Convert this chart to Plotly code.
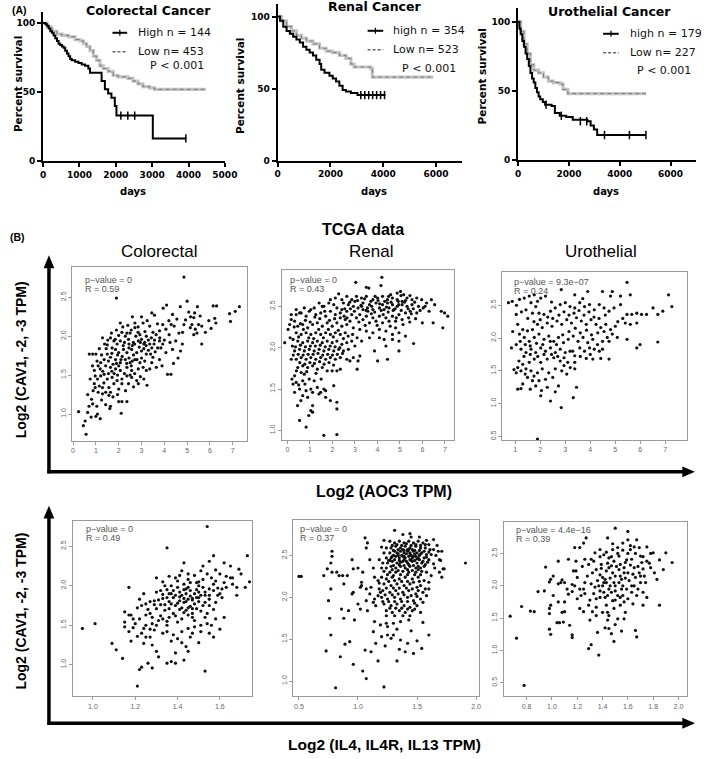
import plotly.graph_objects as go

# ---------------- DATA ----------------
# Kaplan-Meier curves (days, percent survival)
crc_high_t = [0,64,109,155,200,245,290,336,382,427,473,518,564,609,655,700,745,790,882,973,1064,1155,1245,1290,1610,1700,1790,1880,1973,2018,3018,3927]
crc_high_s = [100,99,98,96,94,93,91,89,87,85,84,83,82,80,78,76,74,73,72,71,70,69,67,64,58,52,49,46,40,33,16.5,16.5]
crc_low_t = [0,109,245,382,518,700,882,1018,1110,1200,1290,1382,1473,1564,1655,1790,1927,2064,2336,2473,2609,2745,2927,3064,4473]
crc_low_s = [100,97,94,92,91,90,88,87,85,83,80,76,73,69,67,65,62,61,60,58,56,54,53,52,52]
ren_high_t = [0,88,212,338,462,588,712,838,962,1088,1212,1338,1462,1588,1650,1775,1962,2088,2212,2338,2462,2588,2775,3025,4087]
ren_high_s = [100,97,93,90,88,86,84,82,79,77,75,73,70,67,63,61,59,57,55,52,49,48,47,45.5,45.5]
ren_low_t = [0,150,338,525,712,900,1088,1338,1588,1838,2088,2338,2588,2775,2900,3525,3587,5900]
ren_low_s = [100,97,93,90,87,85,83,81,78,76,75,73,71,67,65,64,58,58]
uro_high_t = [0,51,102,166,230,294,358,422,486,550,614,678,742,806,870,973,1062,1318,1446,1638,1894,2150,2726,2854,2982,3110,5030]
uro_high_s = [100,95,91,86,82,77,73,68,63,59,56,52,49,46,44,42,40,39,34,32,31,29,28,25,22,18,18]
uro_low_t = [0,102,230,358,486,614,806,998,1190,1382,1638,1766,1958,5030]
uro_low_s = [100,93,84,77,69,65,63,60,57,56,55,51,48,48]
# censor marks on the "high" curves
crc_cens = [(2140,33),(2330,33),(2520,33),(3927,16.5)]
ren_cens = [(3150,45.5),(3300,45.5),(3450,45.5),(3600,45.5),(3750,45.5),(3900,45.5),(4050,45.5)]
uro_cens = [(1100,40),(1700,32),(2450,28),(2700,28),(3400,18),(4380,18),(5030,18)]

km_titles = ["Colorectal Cancer", "Renal Cancer", "Urothelial Cancer"]
km_high_labels = ["High n = 144", "high n = 354", "high n = 179"]
km_low_labels = ["Low n= 453", "Low n= 523", "Low n= 227"]
km_p = ["P &lt; 0.001", "P &lt; 0.001", "P &lt; 0.001"]

# TCGA scatter data: (log2 x, log2 CAV1 signature)
crc_aoc3 = [(4.86,2.76),(1.9,2.49),(0.24,1.03),(0.57,0.74),(0.53,0.91),(0.79,0.96),(1.0,0.97),(1.19,0.94),(0.64,1.02),(0.64,1.25),(0.81,1.19),(0.86,1.13),(1.04,1.1),(1.07,1.0),
 (6.14,2.39),(6.29,2.39),(7.29,2.38),(7.11,2.32),(6.86,2.29),(6.9,2.19),(6.21,2.23),(6.26,2.17),
 (5.07,2.31),(5.33,2.30),(5.57,2.26),(5.29,2.24),(5.5,2.15),(5.64,2.13),(5.21,2.15),(5.36,2.09),(5.29,2.02),(5.64,1.9),(4.93,2.21),(4.86,2.15),(5.14,2.11),(5.43,2.04),
 (3.57,2.27),(4.36,2.28),(4.07,2.09),(4.43,2.13),(3.93,2.15),(3.79,2.07),(3.64,2.02),(4.21,2.02),(4.64,2.04),(4.79,1.9),(4.5,1.94),(4.36,1.83),(4.07,1.79),(4.71,1.81),(4.14,1.51),(4.29,1.51),
 (3.07,2.17),(3.36,2.13),(2.71,2.11),(2.5,2.04),(2.93,2.02),(3.21,2.0),(3.43,1.98),(3.57,1.95),(3.79,1.94),(3.93,1.9),(3.71,1.85),(3.36,1.9),(3.14,1.92),(2.86,1.94),(2.64,1.92),(2.43,1.96),(2.29,2.0),(2.14,2.05),(2.07,1.94),(1.93,1.9),(1.79,1.94),(1.64,1.98),(1.29,1.98),(1.71,1.85),(1.86,1.83),(2.0,1.79),(2.21,1.83),(2.36,1.79),(2.57,1.83),(2.79,1.79),(3.0,1.81),(3.21,1.77),(3.5,1.73),(3.79,1.70),(3.14,1.68),(2.93,1.66),(2.71,1.70),(2.5,1.66),(2.29,1.70),(2.07,1.66),(1.86,1.70),(1.64,1.73),(1.5,1.77),(1.36,1.70),(1.21,1.66),(1.43,1.62),(1.64,1.60),(1.86,1.58),(2.07,1.56),(2.36,1.60),(2.57,1.56),(2.86,1.58),(3.07,1.60),(3.36,1.58),(3.21,1.56),
 (0.71,1.77),(0.86,1.77),(1.0,1.77),(0.93,1.56),(0.97,1.49),(1.07,1.45),(0.93,1.39),(0.97,1.34),(1.19,1.58),(1.21,1.49),(1.36,1.51),(1.5,1.45),(1.71,1.47),(1.93,1.43),(2.14,1.45),(2.36,1.49),(2.57,1.47),(2.79,1.43),(2.43,1.39),(2.14,1.39),(1.79,1.39),(1.57,1.34),(1.29,1.34),(1.43,1.28),(1.64,1.28),(1.57,1.24),(1.29,1.26),(3.24,1.37),(2.86,1.39),
 (2.0,1.16),(2.14,1.16),(2.36,1.16),(1.43,1.12),(1.64,1.10),(1.61,1.07),(2.11,1.01),(2.07,2.17),(2.36,2.04),(2.71,2.17),
 (2.6,1.88),(2.9,1.86),(3.1,1.84),(3.3,1.82),(2.45,1.9),(2.2,1.88),(1.95,1.76),(2.15,1.74),(2.45,1.72),(2.65,1.76),(3.4,1.77),(3.6,1.8),(3.0,1.96),(2.75,2.0),(3.15,2.06),(3.5,2.05),(3.85,1.85),(4.0,1.95),(1.55,1.68),(1.75,1.64),(1.1,1.62),(1.3,1.55),(1.8,1.52),(2.55,1.62),(2.0,1.62),
 (1.15,1.84),(1.38,1.9),(1.52,1.95),(1.68,2.04),(1.9,2.08),(2.18,2.12),(2.4,2.14),(2.6,2.25),(2.85,2.12),(3.0,2.25),(3.25,2.2),(3.45,2.3),(3.7,2.16),(3.95,2.36),(4.2,2.2),(4.55,2.22),(4.7,2.38),(5.0,2.45),(5.45,2.38),(5.8,2.05),(5.95,2.2),(6.05,2.1),(3.1,1.9),(3.3,1.95),(3.55,1.9),(3.8,1.98),(4.25,1.92),(4.6,1.72),(4.4,1.65),(3.9,1.62),(3.65,1.6),(3.45,1.66),(3.0,1.72),(2.8,1.7),(2.6,1.68),(2.35,1.65),(2.1,1.7),(1.9,1.65),(1.7,1.78),(1.45,1.84),(1.25,1.76),(1.05,1.68),(0.85,1.62),(0.75,1.45),(0.88,1.3),(1.15,1.36),(1.35,1.4),(1.55,1.52),(1.7,1.55),(1.95,1.5),(2.25,1.52),(2.5,1.5),(2.7,1.52),(2.95,1.48),(3.1,1.45),(2.65,1.35),(2.3,1.3),(2.0,1.32),(1.75,1.22),(1.95,1.25),(1.25,1.18),(1.1,1.28),(0.7,1.1),(0.45,0.85),(2.25,1.92),(2.45,1.85),(2.7,1.9),(2.95,1.92),(3.2,1.88),(3.45,1.85),(1.85,1.96),(2.0,2.01),(1.5,1.89),(2.55,2.08),(2.85,2.05),(4.1,2.4),(4.3,2.15),(4.8,2.05),(5.15,2.25)]

ren_aoc3 = [(4.2,2.85),(3.04,2.79),(3.51,2.73),(3.62,2.72),(4.16,2.75),(5.03,2.68),(5.17,2.64),(4.88,2.66),(4.59,2.64),(2.28,2.65),(2.13,2.6),(2.42,2.58),(2.64,2.62),(2.86,2.58),(3.07,2.62),(3.29,2.6),(3.51,2.62),(3.8,2.58),(4.01,2.6),(4.23,2.62),(4.45,2.58),(4.67,2.6),(4.88,2.58),(5.1,2.56),(5.32,2.6),(5.54,2.58),(5.75,2.6),(5.97,2.58),(6.19,2.54),(6.55,2.52),(6.84,2.44),(6.99,2.42),(7.13,2.38),(6.48,2.3),(6.91,2.24),(5.61,2.05),
 (3.36,2.54),(3.65,2.52),(3.94,2.54),(4.23,2.52),(4.45,2.54),(4.67,2.52),(4.88,2.5),(5.1,2.52),(5.32,2.5),(5.54,2.52),(5.83,2.5),(6.04,2.48),(4.52,2.48),(4.74,2.46),(4.3,2.46),(4.09,2.48),(3.8,2.46),(3.58,2.44),(3.36,2.46),(3.14,2.48),(2.93,2.5),(2.71,2.52),(2.49,2.54),(3.22,2.4),(3.51,2.38),(3.8,2.36),(4.09,2.38),(4.38,2.36),(4.67,2.38),(4.96,2.4),(5.25,2.42),(5.46,2.44),(5.75,2.42),(5.39,2.36),(5.1,2.34),(4.81,2.32),(4.52,2.32),(4.23,2.3),(3.94,2.32),(3.65,2.3),(3.36,2.34),(3.07,2.36),(2.86,2.4),(2.64,2.44),(2.42,2.46),(2.2,2.48),(2.06,2.52),(1.84,2.54),(1.62,2.5),(1.41,2.54),(1.19,2.48),(1.04,2.46),(0.75,2.48),(0.54,2.42),(0.39,2.4),(0.32,2.32),(0.17,2.34),(0.03,2.22),(0.1,2.28),(-0.12,2.06),
 (2.93,2.24),(3.22,2.22),(3.51,2.2),(3.8,2.18),(4.09,2.22),(4.38,2.2),(4.67,2.16),(4.96,2.18),(5.25,2.14),(4.81,2.24),(4.09,2.12),(3.65,2.12),(4.3,2.1),(4.67,2.1),(4.96,2.08),(4.38,2.02),(3.87,1.96),(4.01,1.84),(4.45,1.86),(4.96,1.96),(3.14,1.84),(2.78,1.84),
 (0.46,2.26),(0.68,2.28),(0.9,2.24),(1.12,2.28),(1.33,2.3),(1.55,2.26),(1.77,2.3),(1.99,2.26),(2.2,2.3),(2.42,2.26),(2.64,2.28),(2.78,2.32),(2.57,2.18),(2.35,2.16),(2.13,2.18),(1.91,2.16),(1.7,2.18),(1.48,2.16),(1.26,2.18),(1.04,2.16),(0.83,2.18),(0.61,2.16),(0.39,2.18),(0.25,2.1),(0.46,2.08),(0.68,2.06),(0.9,2.08),(1.12,2.06),(1.33,2.08),(1.55,2.06),(1.77,2.08),(1.99,2.06),(2.2,2.08),(2.42,2.04),(2.64,2.06),(2.86,2.08),(3.0,2.02),(2.71,1.98),(2.49,1.96),(2.28,1.98),(2.06,1.96),(1.84,1.98),(1.62,1.96),(1.41,1.98),(1.19,1.96),(0.97,1.98),(0.75,1.96),(0.54,1.98),(0.32,1.96),(0.17,1.86),(0.39,1.86),(0.61,1.88),(0.83,1.86),(1.04,1.88),(1.26,1.86),(1.48,1.88),(1.7,1.86),(1.91,1.88),(2.13,1.86),(2.35,1.88),(2.64,1.86),(2.93,1.88),(3.22,1.9),
 (0.46,1.76),(0.68,1.78),(0.9,1.76),(1.12,1.78),(1.33,1.74),(1.55,1.76),(1.77,1.72),(1.99,1.72),(2.2,1.72),(2.35,1.74),(3.1,1.74),(0.61,1.7),(0.75,1.68),(0.32,1.66),(0.25,1.56),(0.39,1.58),(0.68,1.6),(0.97,1.62),(1.19,1.6),(0.54,1.5),(0.83,1.48),(1.04,1.5),(1.33,1.52),(1.62,1.5),(2.06,1.54),(0.32,1.46),(0.68,1.42),(0.9,1.4),(1.12,1.46),(1.48,1.46),(1.7,1.48),(1.91,1.36),(2.2,1.34),(2.2,1.26),(1.12,1.3),(1.04,1.24),(1.12,1.22),(0.54,1.12),(0.83,1.04),(1.62,0.94),(2.2,0.95),
 (0.17,2.4),(0.39,2.46),(0.61,2.42),(0.83,2.38),(0.97,2.44),(1.26,2.4),(1.48,2.42),(1.7,2.38),(1.91,2.44),(2.13,2.4),(2.35,2.36),(2.57,2.34),(1.55,2.5),(1.91,2.58),
 (2.55,2.47),(2.77,2.55),(2.98,2.44),(3.12,2.57),(3.27,2.51),(3.43,2.59),(3.56,2.48),(3.71,2.56),(3.88,2.43),(4.03,2.57),(4.17,2.45),(4.33,2.56),(4.48,2.43),(4.61,2.55),(4.79,2.47),(4.93,2.56),(5.06,2.45),(5.2,2.55),(5.37,2.47),(5.51,2.41),(5.66,2.55),(5.9,2.45),(6.12,2.5),(6.3,2.44),(6.4,2.58),(3.18,2.31),(3.46,2.27),(3.73,2.41),(3.99,2.27),(4.26,2.4),(4.57,2.26),(4.84,2.36),(5.14,2.28),(5.44,2.31),(5.7,2.35),(6.0,2.3),(2.52,2.38),(2.35,2.42),(2.1,2.35),(1.87,2.33),(1.66,2.44),(1.44,2.35),(1.22,2.37),(1.01,2.31),(0.8,2.33),(0.58,2.29),(0.3,2.25),(0.22,2.02),(0.12,2.12),(0.5,2.13),(0.71,2.22),(0.95,2.12),(1.17,2.11),(1.39,2.22),(1.6,2.12),(1.82,2.22),(2.04,2.13),(2.26,2.21),(2.49,2.11),(2.7,2.14),(2.9,2.16),(3.1,2.12),(3.3,2.08),(0.36,2.01),(0.58,2.03),(0.8,2.01),(1.02,2.02),(1.24,2.02),(1.46,2.03),(1.68,2.01),(1.9,2.02),(2.12,2.01),(2.33,2.0),(0.26,1.91),(0.48,1.92),(0.7,1.91),(0.92,1.92),(1.14,1.92),(1.36,1.93),(1.57,1.91),(1.79,1.92),(2.0,1.91),(2.22,1.92),(2.45,1.93),(0.55,1.82),(0.77,1.8),(1.0,1.82),(1.2,1.81),(1.43,1.83),(1.63,1.8),(1.85,1.82),(2.05,1.79),(0.4,1.72),(0.86,1.71),(1.27,1.69),(1.5,1.62),(0.2,1.62),(0.5,1.55),(0.78,1.56),(1.4,1.44),(0.6,1.36),(1.7,1.4),(0.45,1.3),(0.95,1.18),(3.75,2.5),(4.1,2.53),(4.4,2.49),(4.7,2.45),(4.95,2.52),(5.25,2.57),(5.6,2.47),(3.5,2.45),(3.3,2.5),(3.0,2.56),(2.8,2.47),(2.65,2.36),(3.9,2.62),(4.5,2.62),(5.05,2.63),(5.45,2.63)]

uro_aoc3 = [(5.47,2.85),(2.84,2.74),(3.38,2.66),(3.9,2.71),(4.49,2.71),(4.88,2.71),(4.81,2.64),(5.21,2.64),(5.6,2.66),(7.13,2.66),(7.26,2.48),(0.73,2.54),(0.88,2.56),(1.04,2.36),(1.17,2.59),(1.36,2.61),(1.56,2.64),(1.76,2.66),(1.89,2.56),(2.02,2.61),(2.21,2.64),(1.63,2.54),(1.82,2.48),(1.43,2.43),(1.69,2.38),(1.95,2.38),(2.15,2.36),(2.41,2.41),(2.6,2.46),(2.8,2.51),(3.0,2.54),(3.19,2.48),(3.38,2.46),(3.58,2.54),(3.77,2.48),(3.97,2.51),(4.16,2.43),(4.36,2.51),(4.55,2.46),(4.75,2.41),(4.95,2.46),(5.21,2.51),(5.47,2.36),(5.66,2.36),(5.86,2.38),(6.05,2.36),(6.25,2.36),(6.51,2.46),(6.7,2.36),(6.9,2.41),(5.4,2.23),(5.6,2.21),(5.86,2.23),(5.08,2.01),(5.47,1.98),(5.86,1.85),(6.7,1.94),(5.99,1.9),
 (1.1,2.21),(1.3,2.13),(1.49,2.11),(1.69,2.13),(1.89,2.21),(2.08,2.16),(2.28,2.23),(2.47,2.18),(2.67,2.26),(2.86,2.21),(3.06,2.28),(3.25,2.23),(3.45,2.31),(3.64,2.26),(3.84,2.21),(4.03,2.28),(4.23,2.21),(4.42,2.16),(4.62,2.21),(4.81,2.13),(5.0,2.18),(1.17,2.06),(1.36,2.01),(1.56,1.95),(1.76,2.01),(1.95,2.06),(2.15,1.98),(2.34,2.03),(2.54,1.95),(2.73,2.01),(2.93,1.93),(3.12,1.98),(3.32,2.03),(3.51,1.95),(3.71,2.01),(3.9,1.93),(4.1,1.98),(4.29,1.9),(4.49,1.95),(4.68,2.01),(4.88,2.06),(1.04,1.9),(1.23,1.83),(1.43,1.78),(1.63,1.83),(1.82,1.78),(2.02,1.85),(2.21,1.8),(2.41,1.85),(2.6,1.78),(2.8,1.83),(3.0,1.78),(3.19,1.8),(3.38,1.73),(3.58,1.85),(3.77,1.8),(3.97,1.85),(4.16,1.83),(4.36,1.8),(4.49,1.83),(4.75,1.68),(4.42,1.69),(4.1,1.68),(3.84,1.69),(3.38,1.63),(3.1,1.63),(2.8,1.65),(2.54,1.7),(2.28,1.68),(2.02,1.63),(1.76,1.68),(1.56,1.63),(1.3,1.6),(1.1,1.55),(1.23,1.5),(1.43,1.53),(1.04,1.47),(1.63,1.5),(1.89,1.47),(2.08,1.53),(2.34,1.47),(2.6,1.53),(2.86,1.5),(3.06,1.45),(3.38,1.53),(1.49,1.4),(1.69,1.35),(1.95,1.35),(2.21,1.37),(1.82,1.27),(2.28,1.25),(2.73,1.27),(3.45,1.25),(3.32,1.09),(2.02,1.12),(2.41,1.04),(1.1,1.22),(1.23,1.23),(2.84,0.94),(1.89,0.46),
 (1.25,2.4),(1.5,2.3),(1.75,2.25),(2.0,2.28),(2.3,2.32),(2.5,2.3),(2.75,2.35),(2.95,2.4),(3.15,2.35),(3.35,2.38),(3.55,2.42),(3.75,2.35),(3.95,2.4),(4.15,2.32),(4.35,2.3),(4.6,2.35),(1.2,1.95),(1.4,1.9),(1.6,1.88),(1.85,1.92),(2.1,1.9),(2.4,1.95),(2.65,1.9),(2.9,2.05),(3.15,2.1),(3.4,2.15),(3.6,2.08),(3.85,2.12),(4.05,2.05),(4.3,2.08),(4.55,2.1),(4.75,1.95),(5.1,2.25),(5.3,2.3),(1.35,1.72),(1.6,1.75),(1.9,1.72),(2.15,1.75),(2.45,1.75),(2.7,1.72),(2.95,1.7),(3.3,1.8),(3.6,1.72),(4.0,1.75),(1.15,1.65),(1.4,1.45),(1.75,1.42),(2.5,1.4),(2.95,1.58),(3.2,1.55),(1.3,1.3),(1.6,1.22),(2.05,1.2),(2.6,1.18),(0.95,1.52),(0.9,2.1),(0.85,1.85),(1.05,2.5),(2.45,2.55),(3.7,2.6)]

crc_il4 = [(1.54,2.75),(1.35,2.48),(0.95,1.46),(1.01,1.52),(1.09,1.27),(1.11,1.19),(1.14,1.08),(1.17,1.98),(1.22,0.94),(1.23,0.97),(1.21,0.73),(1.26,1.02),(1.28,0.96),(1.53,0.92),(1.15,1.48),(1.15,1.54),(1.15,1.67),(1.17,1.63),(1.18,1.63),(1.19,1.47),(1.2,1.52),(1.22,1.58),(1.22,1.83),(1.25,1.35),(1.24,1.46),(1.25,1.5),(1.27,1.35),(1.28,1.25),(1.29,1.44),(1.31,1.56),(1.3,1.71),(1.29,1.81),(1.3,1.92),(1.3,2.1),(1.32,1.94),(1.32,1.76),(1.34,1.69),(1.33,1.58),(1.35,1.5),(1.35,1.42),(1.3,1.17),(1.31,1.1),(1.35,1.02),(1.37,1.04),(1.39,1.02),(1.39,1.15),(1.43,1.06),(1.44,1.23),(1.45,1.17),(1.4,1.33),(1.38,1.38),(1.42,1.42),(1.45,1.46),(1.47,1.4),(1.48,1.48),(1.51,1.5),(1.54,1.52),(1.56,1.5),(1.57,1.35),(1.51,1.42),(1.48,1.56),(1.45,1.63),(1.42,1.58),(1.38,1.65),(1.36,1.71),(1.37,1.77),(1.39,1.75),(1.41,1.81),(1.43,1.79),(1.45,1.83),(1.48,1.77),(1.49,1.71),(1.52,1.75),(1.54,1.65),(1.53,1.79),(1.55,1.83),(1.58,1.79),(1.59,1.88),(1.61,1.85),(1.57,1.94),(1.55,1.96),(1.52,1.98),(1.5,1.92),(1.48,1.9),(1.46,1.94),(1.44,1.9),(1.42,1.88),(1.39,1.88),(1.38,1.94),(1.36,1.9),(1.35,1.85),(1.34,2.0),(1.37,2.0),(1.4,2.06),(1.43,2.02),(1.41,2.13),(1.45,2.08),(1.48,2.13),(1.49,2.04),(1.52,2.08),(1.54,2.15),(1.56,2.1),(1.58,2.06),(1.6,2.15),(1.62,2.04),(1.61,1.96),(1.63,1.98),(1.65,2.1),(1.62,2.29),(1.65,2.25),(1.66,2.1),(1.69,2.21),(1.68,1.98),(1.72,1.98),(1.68,1.88),(1.73,2.38),(1.57,2.38),(1.55,2.31),(1.52,2.25),(1.51,2.19),(1.42,2.19),(1.43,2.29),(1.39,2.1),(1.58,1.58),(1.47,1.71),(1.25,1.63),(1.23,1.75),(1.25,1.77),(1.27,1.65),(1.28,1.52),(1.23,1.4),(1.17,1.42),(1.24,1.27),(1.4,1.54),(1.44,1.69),(1.47,1.65),
 (1.41,1.86),(1.43,1.84),(1.46,1.87),(1.44,1.8),(1.47,1.84),(1.5,1.85),(1.4,1.78),(1.42,1.72),(1.46,1.74),(1.5,1.8),(1.53,1.88),(1.36,1.8),(1.33,1.84),(1.45,1.98),(1.5,2.0),
 (1.38,1.85),(1.41,1.92),(1.44,1.96),(1.47,1.82),(1.49,1.95),(1.51,1.88),(1.53,1.92),(1.55,1.88),(1.57,2.02),(1.59,1.97),(1.46,2.04),(1.43,1.95),(1.4,1.98),(1.37,1.9),(1.35,1.95),(1.33,1.89),(1.31,1.82),(1.29,1.76),(1.27,1.8),(1.26,1.7),(1.28,1.6),(1.32,1.62),(1.34,1.76),(1.36,1.6),(1.39,1.62),(1.41,1.7),(1.43,1.66),(1.45,1.72),(1.47,1.6),(1.49,1.85),(1.51,1.68),(1.53,1.6),(1.55,1.75),(1.57,1.7),(1.6,1.9),(1.63,2.12),(1.66,2.02),(1.58,2.2),(1.5,2.05),(1.45,2.15),(1.36,2.12),(1.33,2.05),(1.24,1.9),(1.21,1.72),(1.19,1.58),(1.21,1.36),(1.27,1.45),(1.33,1.4),(1.37,1.3),(1.42,1.28),(1.46,1.35),(1.5,1.28),(1.55,1.4),(1.6,1.45),(1.62,1.6),(1.7,2.15),(1.74,2.05),(1.35,1.55),(1.3,1.5),(1.18,1.3)]

ren_il4 = [(0.5,2.25),(0.52,2.25),(0.71,2.26),(0.74,2.34),(0.77,2.41),(0.78,2.55),(0.78,2.49),(0.78,2.3),(0.75,1.96),(0.77,2.1),(0.76,1.75),(0.77,1.55),(0.73,1.36),(0.85,1.29),(0.81,0.92),(0.84,2.26),(0.87,2.26),(0.91,2.26),(0.88,2.16),(0.82,2.3),(0.86,1.86),(0.88,1.75),(0.92,1.84),(0.93,1.47),(0.89,1.44),(0.96,1.2),(0.96,2.34),(0.95,2.04),(0.96,2.06),(0.97,1.73),(1.0,1.92),(1.02,1.86),(1.03,2.18),(1.02,2.12),(1.06,2.71),(1.08,2.65),(1.07,2.59),(1.04,2.3),(1.07,1.96),(1.08,1.84),(1.1,2.45),(1.13,2.35),(1.06,1.37),(1.04,1.12),(1.07,1.03),(1.11,1.35),(1.13,1.59),(1.14,1.71),(1.15,1.45),(1.17,1.24),(1.22,0.93),(1.33,1.24),(1.4,1.35),(1.47,1.33),(1.54,1.39),(1.6,1.55),(1.36,1.49),(1.28,1.51),(1.25,1.55),(1.2,1.53),(1.19,1.67),(1.24,1.69),(1.3,1.69),(1.36,1.71),(1.43,1.73),(1.14,2.24),(1.17,2.2),(1.18,2.1),(1.17,2.02),(1.14,1.98),(1.65,2.35),(1.64,2.57),(1.64,2.69),(1.69,2.3),(1.71,2.24),(1.72,2.34),(1.69,2.45),(1.71,2.55),(1.73,2.34),(1.91,2.41),(1.31,2.8),(1.38,2.75),(1.44,2.76),
 (1.27,2.67),(1.31,2.65),(1.35,2.67),(1.39,2.65),(1.43,2.67),(1.47,2.65),(1.51,2.67),(1.55,2.65),(1.6,2.63),(1.24,2.59),(1.28,2.59),(1.32,2.61),(1.36,2.59),(1.4,2.61),(1.44,2.59),(1.49,2.61),(1.53,2.59),(1.57,2.59),(1.61,2.57),(1.22,2.53),(1.27,2.53),(1.31,2.55),(1.33,2.53),(1.36,2.55),(1.39,2.53),(1.42,2.55),(1.44,2.53),(1.47,2.55),(1.5,2.53),(1.54,2.53),(1.58,2.51),(1.62,2.51),(1.24,2.47),(1.28,2.47),(1.32,2.49),(1.35,2.47),(1.38,2.49),(1.4,2.47),(1.43,2.49),(1.46,2.47),(1.49,2.49),(1.51,2.47),(1.56,2.47),(1.6,2.45),(1.21,2.41),(1.25,2.41),(1.29,2.43),(1.33,2.41),(1.38,2.43),(1.42,2.41),(1.46,2.43),(1.5,2.41),(1.54,2.41),(1.57,2.39),(1.2,2.35),(1.24,2.35),(1.28,2.37),(1.32,2.35),(1.36,2.37),(1.4,2.35),(1.44,2.37),(1.49,2.35),(1.53,2.35),(1.22,2.31),(1.27,2.3),(1.32,2.3),(1.38,2.31),(1.43,2.3),(1.49,2.3),(1.54,2.31),(1.58,2.3),
 (1.34,2.52),(1.37,2.5),(1.41,2.52),(1.45,2.5),(1.48,2.52),(1.52,2.5),(1.35,2.44),(1.39,2.45),(1.44,2.45),(1.48,2.44),(1.52,2.45),(1.38,2.57),(1.42,2.57),(1.46,2.57),(1.3,2.5),(1.26,2.44),
 (1.2,2.24),(1.24,2.22),(1.29,2.24),(1.35,2.22),(1.4,2.24),(1.46,2.22),(1.51,2.24),(1.22,2.16),(1.28,2.14),(1.33,2.16),(1.39,2.14),(1.44,2.16),(1.5,2.12),(1.21,2.08),(1.27,2.06),(1.32,2.08),(1.38,2.06),(1.43,2.08),(1.49,2.04),(1.2,2.0),(1.25,1.98),(1.31,2.0),(1.36,1.98),(1.42,2.0),(1.47,1.96),(1.53,1.98),(1.22,1.92),(1.28,1.9),(1.33,1.92),(1.39,1.9),(1.44,1.88),(1.5,1.9),(1.24,1.84),(1.29,1.82),(1.35,1.84),(1.4,1.82),(1.46,1.84),(1.53,1.82),(1.44,1.78),(1.38,1.78),(1.31,1.78),(1.24,1.78),(1.53,2.14),(1.57,2.1),(1.58,2.02),(1.6,2.18),(1.55,1.94),(1.03,2.14),(1.07,2.1),(1.1,2.04),(1.11,2.12),(1.13,1.94),(1.15,1.9),
 (1.29,2.62),(1.33,2.63),(1.37,2.62),(1.41,2.64),(1.45,2.62),(1.49,2.63),(1.53,2.62),(1.57,2.63),(1.3,2.56),(1.34,2.57),(1.39,2.56),(1.43,2.57),(1.48,2.56),(1.52,2.56),(1.56,2.55),(1.6,2.54),(1.29,2.49),(1.34,2.5),(1.39,2.49),(1.44,2.5),(1.47,2.49),(1.53,2.52),(1.58,2.48),(1.27,2.44),(1.31,2.45),(1.36,2.42),(1.41,2.43),(1.45,2.44),(1.5,2.46),(1.55,2.43),(1.59,2.42),(1.3,2.38),(1.35,2.39),(1.39,2.38),(1.43,2.39),(1.47,2.38),(1.51,2.37),(1.56,2.37),(1.29,2.33),(1.34,2.32),(1.42,2.33),(1.46,2.32),(1.51,2.33),(1.25,2.27),(1.3,2.26),(1.36,2.27),(1.42,2.27),(1.48,2.27),(1.53,2.27),(1.26,2.19),(1.31,2.2),(1.37,2.19),(1.42,2.19),(1.47,2.18),(1.52,2.19),(1.24,2.11),(1.3,2.11),(1.35,2.11),(1.41,2.11),(1.46,2.1),(1.51,2.08),(1.23,2.03),(1.29,2.03),(1.34,2.04),(1.39,2.03),(1.45,2.02),(1.5,2.01),(1.26,1.95),(1.31,1.95),(1.37,1.95),(1.42,1.95),(1.48,1.93),(1.27,1.87),(1.32,1.87),(1.37,1.87),(1.42,1.86),(1.48,1.86),(1.21,1.95),(1.19,2.06),(1.18,2.17),(1.56,2.2),(1.55,2.06),(1.6,2.1),(1.62,2.26),(1.64,2.4),(1.66,2.5),(1.25,1.65),(1.33,1.62),(1.3,1.55),(1.45,1.6),(1.55,1.7),(1.5,1.48),(1.42,1.45),(1.23,1.42),(1.35,1.38),(1.0,2.35),(0.95,2.45),(1.18,2.45),(1.2,2.6),(1.22,2.68),(1.45,2.72),(1.52,2.72),(1.58,2.68),(1.67,2.62),(1.68,2.55),(1.7,2.44)]

uro_il4 = [(0.67,1.53),(0.72,1.19),(0.78,0.46),(0.76,1.68),(0.83,1.61),(0.86,1.6),(0.89,1.91),(0.94,1.92),(0.95,2.29),(0.98,2.06),(0.99,2.1),(1.01,2.15),(1.05,2.03),(1.07,2.05),(1.08,2.09),(1.1,2.05),(0.98,1.65),(0.98,1.57),(0.99,1.7),(1.01,1.85),(0.98,1.33),(0.99,1.25),(1.04,1.43),(1.06,1.43),(1.09,1.44),(1.08,1.59),(1.1,1.75),(1.13,1.87),(1.13,2.41),(1.16,1.91),(1.17,2.23),(1.19,2.23),(1.16,1.24),(1.16,1.2),(1.14,1.39),(1.16,2.02),(1.18,2.0),(1.2,2.13),(1.22,1.65),(1.23,1.85),(1.25,1.95),(1.26,2.05),(1.26,2.41),(1.29,1.7),(1.3,1.47),(1.29,1.03),(1.31,1.09),(1.25,2.66),(1.27,2.74),(1.29,2.33),(1.31,2.41),(1.32,2.2),(1.34,1.98),(1.35,1.8),(1.35,1.54),(1.36,1.28),(1.37,0.93),(1.38,2.56),(1.39,2.33),(1.4,2.13),(1.4,2.0),(1.41,1.9),(1.43,1.7),(1.44,1.59),(1.44,1.47),(1.45,1.34),(1.47,1.26),(1.49,1.14),(1.44,2.74),(1.45,2.43),(1.47,2.31),(1.48,2.2),(1.49,2.05),(1.5,1.92),(1.5,2.89),(1.52,2.59),(1.53,2.46),(1.54,2.33),(1.54,2.15),(1.56,2.0),(1.56,1.85),(1.57,1.75),(1.58,1.59),(1.57,1.49),(1.56,2.66),(1.6,2.71),(1.6,2.84),(1.62,2.56),(1.63,2.41),(1.65,2.28),(1.66,2.13),(1.65,2.0),(1.63,1.9),(1.67,1.85),(1.67,2.71),(1.69,2.59),(1.7,2.46),(1.71,2.36),(1.72,2.26),(1.7,2.15),(1.74,2.05),(1.75,1.82),(1.72,1.7),(1.66,1.31),(1.67,1.21),(1.75,2.38),(1.78,2.28),(1.8,2.51),(1.83,2.1),(1.85,1.7),(1.9,2.51),(1.95,2.36),(1.43,2.23),(1.49,2.38),(1.57,2.2),(1.61,2.08),(1.52,1.85),(1.48,1.77),(1.43,2.05),(1.38,1.92),(1.31,2.03),(1.19,2.38),(1.18,2.59),(1.22,2.59),(1.05,2.38),(1.34,2.51),(1.58,2.36),(1.6,2.5),(1.7,2.05),(1.4,1.59),(1.45,1.54),(1.52,1.49),(1.49,1.65),(1.54,1.7),(1.35,1.67),(1.48,2.56),(1.41,2.48),
 (1.42,2.1),(1.46,2.0),(1.5,2.15),(1.53,2.25),(1.45,2.28),(1.38,2.17),(1.55,1.95),(1.6,2.2),(1.36,2.08),(1.42,1.82),(1.47,1.9),(1.58,2.12),
 (1.35,2.25),(1.39,2.27),(1.44,2.35),(1.46,2.12),(1.51,2.3),(1.53,2.05),(1.57,2.28),(1.59,2.4),(1.62,2.32),(1.64,2.18),(1.68,2.3),(1.69,2.2),(1.73,2.15),(1.77,2.35),(1.81,2.2),(1.37,2.0),(1.41,2.05),(1.45,1.95),(1.5,2.0),(1.55,2.1),(1.59,1.95),(1.63,2.0),(1.68,1.95),(1.72,1.9),(1.33,1.88),(1.38,1.82),(1.44,1.85),(1.5,1.78),(1.54,1.82),(1.6,1.8),(1.64,1.72),(1.3,1.78),(1.26,1.88),(1.22,1.95),(1.28,2.15),(1.24,2.3),(1.33,2.38),(1.38,2.45),(1.43,2.52),(1.47,2.45),(1.52,2.5),(1.56,2.55),(1.62,2.62),(1.66,2.5),(1.72,2.45),(1.78,2.5),(1.85,2.4),(1.88,2.25),(1.2,1.8),(1.25,1.6),(1.32,1.6),(1.42,1.35),(1.5,1.4),(1.55,1.3),(1.1,1.6),(1.12,1.95),(1.05,1.75),(1.48,2.65),(1.65,2.6),(1.75,2.6)]

col_titles = ["Colorectal", "Renal", "Urothelial"]
stat_text = [("p\u2212value = 0", "R = 0.59"), ("p\u2212value = 0", "R = 0.43"), ("p\u2212value = 9.3e\u221207", "R = 0.24"),
             ("p\u2212value = 0", "R = 0.49"), ("p\u2212value = 0", "R = 0.37"), ("p\u2212value = 4.4e\u221216", "R = 0.39")]

# ---------------- LAYOUT HELPERS ----------------
W, H = 709, 759
def X(px): return px / W
def Y(py): return 1 - py / H

fig = go.Figure()
layout = dict(width=W, height=H, margin=dict(l=0, r=0, t=0, b=0),
              paper_bgcolor="white", plot_bgcolor="white", showlegend=False)

GP = "DejaVu Sans"          # GraphPad-like wide text
SANS = "Liberation Sans"

def note(px, py, text, size, family=SANS, color="black", bold=False, xanchor="center", angle=0):
    return dict(x=X(px), y=Y(py), xref="paper", yref="paper", text=text, showarrow=False,
                xanchor=xanchor, yanchor="middle", textangle=angle,
                font=dict(family=family, size=size, color=color, weight="bold" if bold else "normal"))

km_axes = [
    ((41, 227), [0, 5000], [0, 1000, 2000, 3000, 4000, 5000], (12, 162.3), [0, 108]),
    ((281, 470), [0, 7000], [0, 2000, 4000, 6000], (3.6, 161.7), [0, 109]),
    ((527, 709), [0, 7000], [0, 2000, 4000, 6000], (8, 161), [0, 110]),
]
for i, (xd, xr, xt, yd, yr) in enumerate(km_axes, start=1):
    sfx = "" if i == 1 else str(i)
    layout["xaxis" + sfx] = dict(domain=[X(xd[0]), X(xd[1])], range=xr, anchor="y" + str(i),
        tickvals=xt, showline=True, linewidth=2, linecolor="black",
        ticks="outside", ticklen=4, tickwidth=2, tickcolor="black", showgrid=False, zeroline=False,
        tickfont=dict(family=GP, size=9, color="black", weight="bold"))
    layout["yaxis" + sfx] = dict(domain=[Y(yd[1]), Y(yd[0])], range=yr, anchor="x" + str(i),
        tickvals=[0, 50, 100], showline=True, linewidth=2, linecolor="black",
        ticks="outside", ticklen=4, tickwidth=2, tickcolor="black", showgrid=False, zeroline=False,
        tickfont=dict(family=GP, size=9, color="black", weight="bold"))

km_sets = [(crc_high_t, crc_high_s, crc_low_t, crc_low_s, crc_cens),
           (ren_high_t, ren_high_s, ren_low_t, ren_low_s, ren_cens),
           (uro_high_t, uro_high_s, uro_low_t, uro_low_s, uro_cens)]
for i, (ht, hs, lt, lsv, cens) in enumerate(km_sets, start=1):
    xa, ya = "x" + str(i), "y" + str(i)
    fig.add_trace(go.Scatter(x=lt, y=lsv, mode="lines", line=dict(shape="hv", color="#c4c4c4", width=3.2), xaxis=xa, yaxis=ya))
    fig.add_trace(go.Scatter(x=lt, y=lsv, mode="lines", line=dict(shape="hv", color="#7a7a7a", width=1, dash="4px,3px"), xaxis=xa, yaxis=ya))
    fig.add_trace(go.Scatter(x=ht, y=hs, mode="lines", line=dict(shape="hv", color="black", width=2), xaxis=xa, yaxis=ya))
    fig.add_trace(go.Scatter(x=[c[0] for c in cens], y=[c[1] for c in cens], mode="markers",
        marker=dict(symbol="line-ns", size=6, line=dict(width=1.5, color="black")), xaxis=xa, yaxis=ya))

sc_axes = [
    ((71, 250), [-0.03, 7.64], [0,1,2,3,4,5,6,7], (269, 444), [0.652, 2.887], [1.0,1.5,2.0,2.5]),
    ((285.7, 461.7), [-0.23, 7.42], [0,1,2,3,4,5,6,7], (272, 443), [0.883, 2.936], [1.0,1.5,2.0,2.5]),
    ((511, 700), [0.49, 7.875], [1,2,3,4,5,6,7], (274.3, 443), [0.444, 3.0], [0.5,1.0,1.5,2.0,2.5]),
    ((71.7, 255), [0.906, 1.753], [1.0,1.2,1.4,1.6], (524, 701), [0.6, 2.825], [1.0,1.5,2.0,2.5]),
    ((297, 487), [0.452, 2.025], [0.5,1.0,1.5,2.0], (523.3, 701), [0.817, 2.925], [1.0,1.5,2.0,2.5]),
    ((512.3, 700), [0.619, 2.069], [0.8,1.0,1.2,1.4,1.6,1.8,2.0], (525, 701), [0.291, 2.993], [0.5,1.0,1.5,2.0,2.5]),
]
sc_data = [crc_aoc3, ren_aoc3, uro_aoc3, crc_il4, ren_il4, uro_il4]
annos = []
for k, ((xd, xr, xt, yd, yr, yt), pts) in enumerate(zip(sc_axes, sc_data)):
    i = k + 4
    layout["xaxis" + str(i)] = dict(domain=[X(xd[0]), X(xd[1])], range=xr, anchor="y" + str(i),
        tickvals=xt, ticktext=[("%.1f" % v if k >= 3 else str(v)) for v in xt],
        showline=True, mirror=True, linewidth=1, linecolor="#9a9a9a", ticks="outside", ticklen=3,
        tickcolor="#9a9a9a", showgrid=False, zeroline=False, tickfont=dict(family=SANS, size=7, color="#666"))
    layout["yaxis" + str(i)] = dict(domain=[Y(yd[1]), Y(yd[0])], range=yr, anchor="x" + str(i),
        tickvals=yt, ticktext=["%.1f" % v for v in yt], tickangle=-90,
        showline=True, mirror=True, linewidth=1, linecolor="#9a9a9a", ticks="outside", ticklen=3,
        tickcolor="#9a9a9a", showgrid=False, zeroline=False, tickfont=dict(family=SANS, size=7, color="#666"))
    fig.add_trace(go.Scatter(x=[p[0] for p in pts], y=[p[1] for p in pts], mode="markers",
        marker=dict(size=3.2, color="#111"), xaxis="x" + str(i), yaxis="y" + str(i)))
    st = stat_text[k]
    tx = [81.7, 292, 521, 83, 302, 523][k]
    ty = [282, 282, 284, 533, 533, 534][k]
    for j, t in enumerate(st):
        annos.append(note(tx, ty + j * 8.5, t, 9, color="#555", xanchor="left"))

km_title_pos = [(149, 11), (380, 7), (620, 12)]
leg_line = [(112, 127, 136, 33, 52, 208, 66), (373, 389, 397, 31, 50, 465, 69), (614, 630, 639, 34, 53, 706, 71)]
shapes = []
for i in range(3):
    cx, cy = km_title_pos[i]
    annos.append(note(cx, cy, km_titles[i], 12.5, family=GP, bold=True))
    l0, l1, tx, y1, y2, pr, py = leg_line[i]
    shapes.append(dict(type="line", xref="paper", yref="paper", x0=X(l0), x1=X(l1), y0=Y(y1), y1=Y(y1), line=dict(color="black", width=2)))
    shapes.append(dict(type="line", xref="paper", yref="paper", x0=X((l0 + l1) / 2), x1=X((l0 + l1) / 2), y0=Y(y1 - 3), y1=Y(y1 + 3), line=dict(color="black", width=1.2)))
    shapes.append(dict(type="line", xref="paper", yref="paper", x0=X(l0), x1=X(l1), y0=Y(y2), y1=Y(y2), line=dict(color="#666", width=1.5, dash="3px,2px")))
    annos.append(note(tx, y1, km_high_labels[i], 11, family=GP, color="#111", xanchor="left"))
    annos.append(note(tx, y2, km_low_labels[i], 11, family=GP, color="#111", xanchor="left"))
    annos.append(note(pr, py, km_p[i], 11, family=GP, color="#111", xanchor="right"))
    ylx, yly = [(16, 85), (243, 87), (491, 77)][i]
    annos.append(note(ylx, yly, "Percent survival", 10.5, family=GP, bold=True, angle=-90))
    dx = [133, 380, 617][i]
    annos.append(note(dx, 193, "days", 10, family=GP, bold=True))

annos.append(note(17, 10, "(A)", 10.5, bold=True))
annos.append(note(15, 239, "(B)", 10.5, bold=True))
annos.append(note(368, 231, "TCGA data", 16, bold=True))
for t, cx in zip(col_titles, [160, 377, 612]):
    annos.append(note(cx, 253, t, 17))
for cy in [362, 615]:
    annos.append(note(18, cy, "Log2 (CAV1, -2, -3 TPM)", 14, bold=True, angle=-90))
annos.append(note(390, 495, "Log2 (AOC3 TPM)", 16, bold=True))
annos.append(note(390, 749, "Log2 (IL4, IL4R, IL13 TPM)", 15.5, bold=True))

for top, base in [(257, 475), (509, 728)]:
    shapes.append(dict(type="line", xref="paper", yref="paper", x0=X(47), x1=X(47), y0=Y(base + 1.5), y1=Y(top + 10), line=dict(color="black", width=3.5)))
    shapes.append(dict(type="path", xref="paper", yref="paper", fillcolor="black", line=dict(width=0),
                       path="M %f,%f L %f,%f L %f,%f Z" % (X(47), Y(top), X(41.5), Y(top + 13), X(52.5), Y(top + 13))))
    shapes.append(dict(type="line", xref="paper", yref="paper", x0=X(45.5), x1=X(698), y0=Y(base), y1=Y(base), line=dict(color="black", width=3.5)))
    shapes.append(dict(type="path", xref="paper", yref="paper", fillcolor="black", line=dict(width=0),
                       path="M %f,%f L %f,%f L %f,%f Z" % (X(708), Y(base), X(695), Y(base - 5.5), X(695), Y(base + 5.5))))

layout["annotations"] = annos
layout["shapes"] = shapes
fig.update_layout(**layout)
# remove the default 8px page margin so the figure fills the window exactly; hide the mode bar
fig.write_html("out.html", config={"displayModeBar": False},
               post_script="document.body.style.margin='0px';document.body.style.overflow='hidden';")
